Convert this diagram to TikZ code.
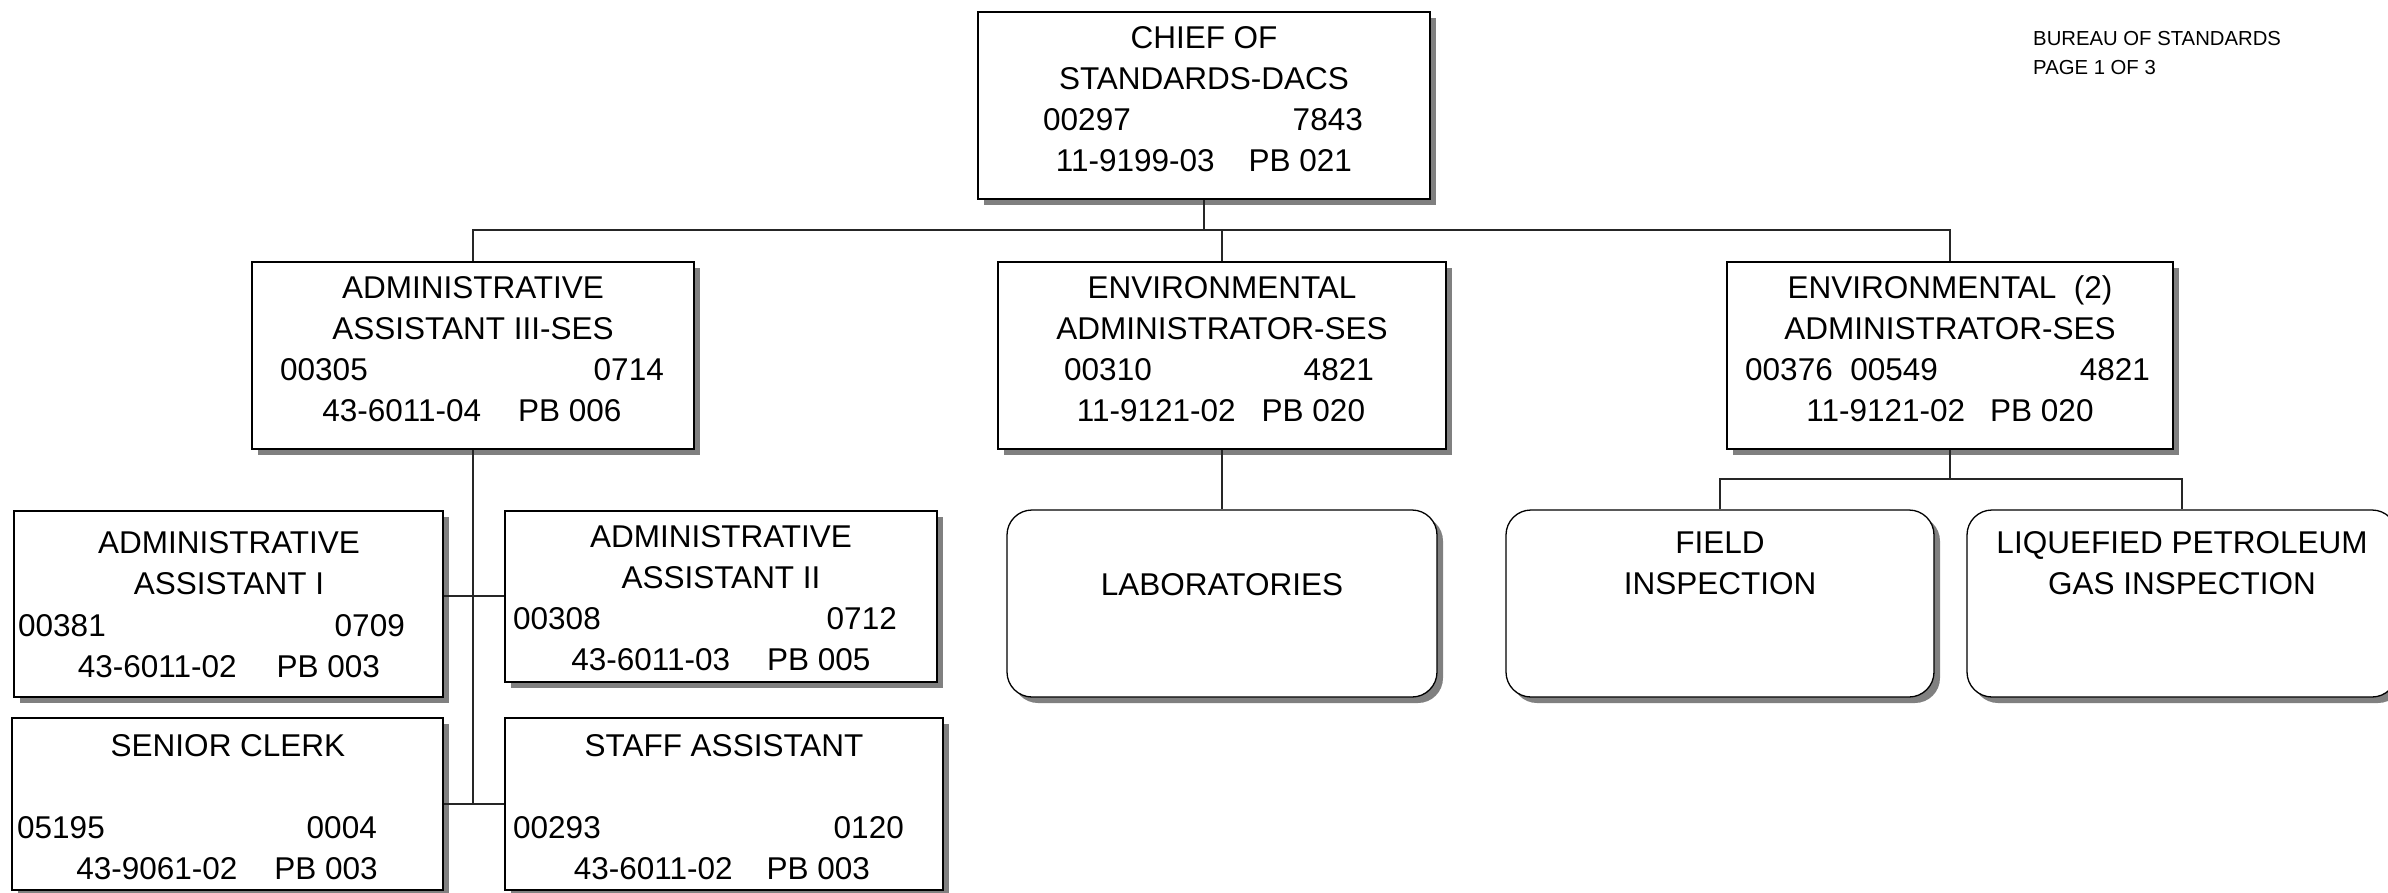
\documentclass[tikz,border=0pt]{standalone}
\usepackage{fontspec}
\setmainfont{Liberation Sans}
\usetikzlibrary{fit,shadows}
\begin{document}
\begin{tikzpicture}[x=1pt,y=-1pt,
  posbox/.style={draw=black, line width=1.3pt, fill=white, inner sep=0pt,
    drop shadow={shadow xshift=6pt, shadow yshift=-6pt, fill=black!50, opacity=1}},
  unitbox/.style={posbox, rounded corners=25pt},
  lbl/.style={inner sep=0pt, anchor=base, font=\fontsize{31.5}{37}\selectfont},
  lblL/.style={lbl, anchor=base west},
  lblR/.style={lbl, anchor=base east},
  note/.style={inner sep=0pt, anchor=base west, font=\fontsize{20.3}{24}\selectfont},
  link/.style={draw=black!85, line width=1.2pt}]
\useasboundingbox (0,0) rectangle (2388,892);
\clip (0,0) rectangle (2388,892);

% ---- connector levels ----
\coordinate (bus1) at (0,230);
\coordinate (bus2) at (0,479);
\coordinate (bus3) at (474,596);

% ---- boxes ----
\node[posbox, fit={(978,12) (1430,199)}] (chief) {};
\node[posbox, fit={(252,262) (694,449)}] (adm3) {};
\node[posbox, fit={(998,262) (1446,449)}] (env1) {};
\node[posbox, fit={(1727,262) (2173,449)}] (env2) {};
\node[posbox, fit={(14,511) (443,697)}] (adm1) {};
\node[posbox, fit={(505,511) (937,682)}] (adm2) {};
\node[posbox, fit={(12,718) (443,890)}] (clerk) {};
\node[posbox, fit={(505,718) (943,890)}] (staff) {};
\node[unitbox, fit={(1007,510) (1437,697)}] (labs) {};
\node[unitbox, fit={(1506,510) (1934,697)}] (field) {};
\node[unitbox, fit={(1967,510) (2397,697)}] (lpg) {};

% top level to the three divisions
\draw[link] (chief.south) -- (chief.south |- bus1);
\draw[link] (adm3.north) -- (adm3.north |- bus1) -- (env2.north |- bus1) -- (env2.north);
\draw[link] (env1.north) -- (env1.north |- bus1);
% administrative staff
\draw[link] (adm3.south) -- (adm3.south |- clerk.east);
\draw[link] (adm1.east |- bus3) -- (adm2.west |- bus3);
\draw[link] (clerk.east) -- (staff.west);
% environmental units
\draw[link] (env1.south) -- (labs.north);
\draw[link] (env2.south) -- (env2.south |- bus2);
\draw[link] (field.north) -- (field.north |- bus2) -- (lpg.north |- bus2) -- (lpg.north);

% ---- texts ----
% chief
\node[lbl] (chief-t1) at (1204,48) {CHIEF OF};
\node[lbl] (chief-t2) at (1204,89) {STANDARDS-DACS};
\node[lblL] (chief-t3) at (1043,130) {00297};
\node[lblR] (chief-t4) at (1363,130) {7843};
\node[lbl] (chief-t5) at (1204,171) {11-9199-03\hspace{34pt}PB 021};
% administrative assistant III
\node[lbl] (adm3-t1) at (473,298) {ADMINISTRATIVE};
\node[lbl] (adm3-t2) at (473,339) {ASSISTANT III-SES};
\node[lblL] (adm3-t3) at (280,380) {00305};
\node[lblR] (adm3-t4) at (664,380) {0714};
\node[lbl] (adm3-t5) at (472,421) {43-6011-04\hspace{37pt}PB 006};
% environmental administrator
\node[lbl] (env1-t1) at (1222,298) {ENVIRONMENTAL};
\node[lbl] (env1-t2) at (1222,339) {ADMINISTRATOR-SES};
\node[lblL] (env1-t3) at (1064,380) {00310};
\node[lblR] (env1-t4) at (1374,380) {4821};
\node[lbl] (env1-t5) at (1221,421) {11-9121-02\hspace{26pt}PB 020};
% environmental administrator (2)
\node[lbl] (env2-t1) at (1950,298) {ENVIRONMENTAL~~(2)};
\node[lbl] (env2-t2) at (1950,339) {ADMINISTRATOR-SES};
\node[lblL] (env2-t3) at (1745,380) {00376~~00549};
\node[lblR] (env2-t4) at (2150,380) {4821};
\node[lbl] (env2-t5) at (1950,421) {11-9121-02\hspace{25pt}PB 020};
% administrative assistant I
\node[lbl] (adm1-t1) at (229,553) {ADMINISTRATIVE};
\node[lbl] (adm1-t2) at (229,594) {ASSISTANT I};
\node[lblL] (adm1-t3) at (18,636) {00381};
\node[lblR] (adm1-t4) at (405,636) {0709};
\node[lbl] (adm1-t5) at (229,677) {43-6011-02\hspace{40pt}PB 003};
% administrative assistant II
\node[lbl] (adm2-t1) at (721,547) {ADMINISTRATIVE};
\node[lbl] (adm2-t2) at (721,588) {ASSISTANT II};
\node[lblL] (adm2-t3) at (513,629) {00308};
\node[lblR] (adm2-t4) at (897,629) {0712};
\node[lbl] (adm2-t5) at (721,670) {43-6011-03\hspace{37pt}PB 005};
% senior clerk
\node[lbl] (clerk-t1) at (228,756) {SENIOR CLERK};
\node[lblL] (clerk-t3) at (17,838) {05195};
\node[lblR] (clerk-t4) at (377,838) {0004};
\node[lbl] (clerk-t5) at (227,879) {43-9061-02\hspace{37pt}PB 003};
% staff assistant
\node[lbl] (staff-t1) at (724,756) {STAFF ASSISTANT};
\node[lblL] (staff-t3) at (513,838) {00293};
\node[lblR] (staff-t4) at (904,838) {0120};
\node[lbl] (staff-t5) at (722,879) {43-6011-02\hspace{34pt}PB 003};
% units
\node[lbl] (labs-t1) at (1222,595) {LABORATORIES};
\node[lbl] (field-t1) at (1720,553) {FIELD};
\node[lbl] (field-t2) at (1720,594) {INSPECTION};
\node[lbl] (lpg-t1) at (2182,553) {LIQUEFIED PETROLEUM};
\node[lbl] (lpg-t2) at (2182,594) {GAS INSPECTION};

% page note
\node[note] (note1) at (2033,45) {BUREAU OF STANDARDS};
\node[note] (note2) at (2033,74) {PAGE 1 OF 3};
\end{tikzpicture}
\end{document}
